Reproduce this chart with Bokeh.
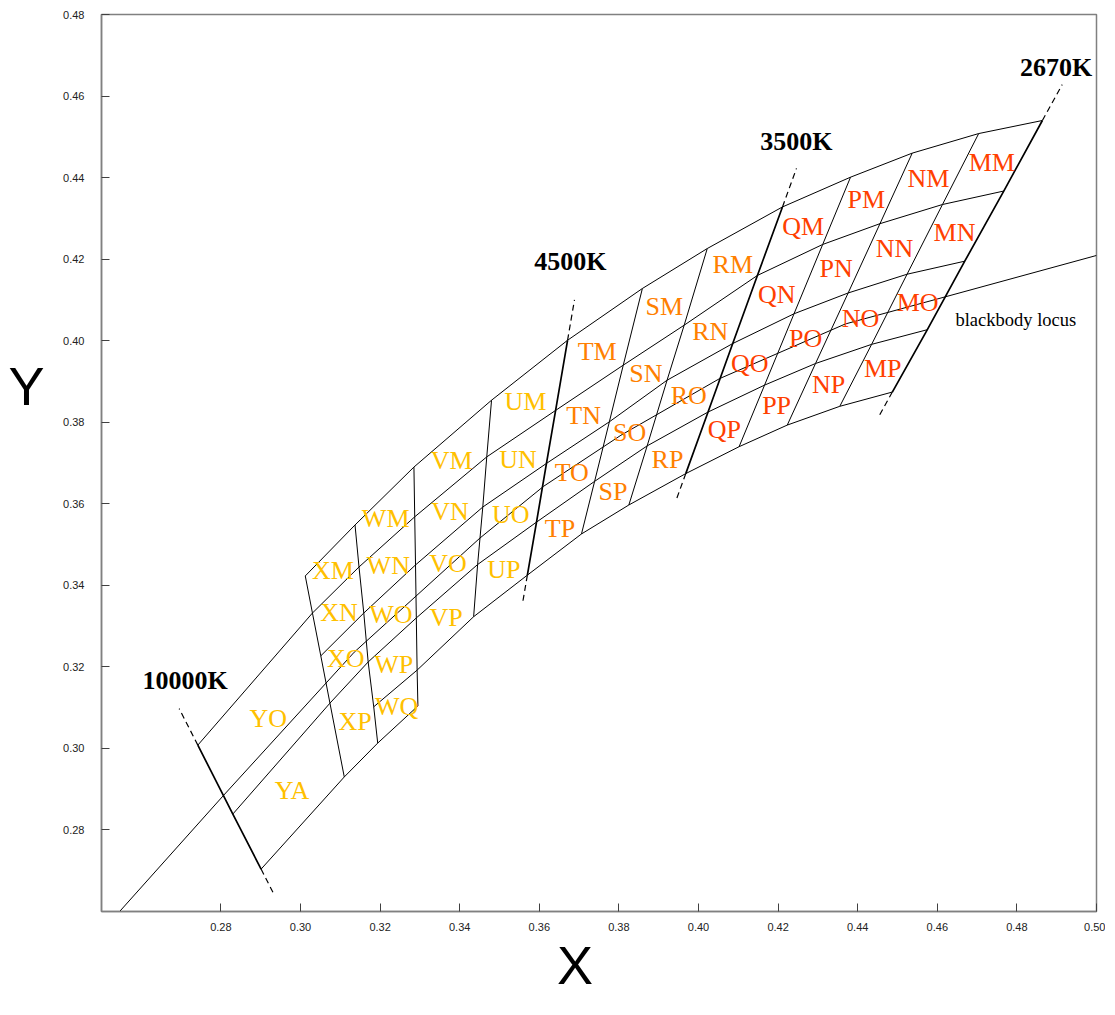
import math
from bokeh.plotting import figure
from bokeh.models import (ColumnDataSource, FixedTicker, NumeralTickFormatter,
                          PrintfTickFormatter, LinearAxis)
from bokeh.core.properties import value
from bokeh.embed import file_html
from bokeh.resources import INLINE

N = None
# ---- data: CIE 1931 chromaticity of the bin corners -------------------------
# isotherm lines, left (10000K) to right (2670K)
iso_names = ["10000K", "", "", "", "", "4500K", "", "", "3500K", "", "", "", "2670K"]

# constant-Duv curves, top (c0) to bottom (c5); one value per isotherm line
c0_x = [N, 0.3012, 0.3137, 0.3285, 0.3480, 0.3671, 0.3859, 0.4022, 0.4211, 0.4382, 0.4537, 0.4704, 0.4864]
c0_y = [N, 0.3423, 0.3548, 0.3690, 0.3854, 0.4001, 0.4128, 0.4226, 0.4328, 0.4401, 0.4460, 0.4508, 0.4540]
c1_x = [0.2742, 0.3030, 0.3147, 0.3287, 0.3468, 0.3641, 0.3811, 0.3964, 0.4148, 0.4312, 0.4456, 0.4613, 0.4767]
c1_y = [0.3008, 0.3332, 0.3445, 0.3568, 0.3715, 0.3829, 0.3940, 0.4038, 0.4160, 0.4236, 0.4287, 0.4334, 0.4367]
c2_x = [N, 0.3051, 0.3159, 0.3289, 0.3458, 0.3618, 0.3776, 0.3921, 0.4086, 0.4240, 0.4376, 0.4524, 0.4669]
c2_y = [N, 0.3227, 0.3332, 0.3450, 0.3592, 0.3699, 0.3801, 0.3903, 0.3993, 0.4066, 0.4117, 0.4163, 0.4195]
c3_x = [0.2830, 0.3074, 0.3170, 0.3291, 0.3445, 0.3593, 0.3739, 0.3871, 0.4024, 0.4166, 0.4294, 0.4435, 0.4575]
c3_y = [0.2839, 0.3111, 0.3212, 0.3320, 0.3451, 0.3555, 0.3655, 0.3742, 0.3825, 0.3891, 0.3944, 0.3991, 0.4027]
c4_x = [N, N, 0.3184, 0.3293, 0.3435, 0.3570, 0.3706, 0.3825, 0.3968, 0.4102, 0.4223, 0.4355, 0.4487]
c4_y = [N, N, 0.3102, 0.3192, 0.3323, 0.3425, 0.3526, 0.3597, 0.3674, 0.3740, 0.3793, 0.3839, 0.3874]
c5_x = [0.2901, 0.3110, 0.3194, 0.3295, N, N, N, N, N, N, N, N, N]
c5_y = [0.2704, 0.2930, 0.3013, 0.3104, N, N, N, N, N, N, N, N, N]

# blackbody locus
locus_x = [0.2540, 0.2805, 0.3135, 0.3451, 0.3611, 0.3805, 0.4053, 0.4369, 0.4618, 0.5000]
locus_y = [0.2594, 0.2883, 0.3236, 0.3516, 0.3643, 0.3768, 0.3907, 0.4041, 0.4107, 0.4209]

# bin columns (between consecutive isotherm lines) and their rows
columns = ["Y", "X", "W", "V", "U", "T", "S", "R", "Q", "P", "N", "M"]
std_rows = [("M", 0, 1), ("N", 1, 2), ("O", 2, 3), ("P", 3, 4)]
col_rows = {
    "Y": [("O", 1, 3), ("A", 3, 5)],
    "X": [("M", 0, 1), ("N", 1, 2), ("O", 2, 3), ("P", 3, 5)],
    "W": std_rows + [("Q", 4, 5)],
}
col_group = [0, 0, 0, 0, 0, 1, 1, 1, 2, 2, 2, 2]

x_ticks = [0.28, 0.30, 0.32, 0.34, 0.36, 0.38, 0.40, 0.42, 0.44, 0.46, 0.48, 0.50]
y_ticks = [0.28, 0.30, 0.32, 0.34, 0.36, 0.38, 0.40, 0.42, 0.44, 0.46, 0.48]

# ---- styling ------------------------------------------------------------------
group_colors = ["#FFC000", "#FF8000", "#FF4000"]
PXX, PXY = 3980.0, 4077.0  # screen px per chromaticity unit (frame 995 x 897)

cx = [c0_x, c1_x, c2_x, c3_x, c4_x, c5_x]
cy = [c0_y, c1_y, c2_y, c3_y, c4_y, c5_y]

p = figure(width=1105, height=1005, x_range=(0.25, 0.50), y_range=(0.26, 0.48),
           output_backend="svg", toolbar_location=None,
           min_border_left=101, min_border_right=9, min_border_top=14, min_border_bottom=94)
p.xgrid.visible = False
p.ygrid.visible = False
p.outline_line_color = "#808080"
p.outline_line_width = 1.5
p.background_fill_color = "white"
p.border_fill_color = "white"

for ax, ticks in ((p.xaxis, x_ticks), (p.yaxis, y_ticks)):
    ax.ticker = FixedTicker(ticks=ticks)
    ax.formatter = NumeralTickFormatter(format="0.00")
    ax.major_tick_in = 8
    ax.major_tick_out = 0
    ax.minor_tick_line_color = None
    ax.axis_line_color = "#808080"
    ax.axis_line_width = 1.5
    ax.major_tick_line_color = "#404040"
    ax.major_label_text_font = "Liberation Sans"
    ax.major_label_text_font_size = "11px"
    ax.major_label_text_color = "#222222"
p.xaxis.major_label_standoff = 11
p.yaxis.major_label_standoff = 17

# axis titles, written as the single label of an extra, line-less axis
def title_axis(letter, pos, standoff):
    return LinearAxis(ticker=FixedTicker(ticks=[pos]),
                      formatter=PrintfTickFormatter(format=letter),
                      axis_line_color=None, major_tick_line_color=None,
                      minor_tick_line_color=None, major_tick_in=0, major_tick_out=0,
                      major_label_standoff=standoff,
                      major_label_text_font="Liberation Sans",
                      major_label_text_font_size="54px",
                      major_label_text_color="black")

p.add_layout(title_axis("Y", 0.3888, 16), "left")
p.add_layout(title_axis("X", 0.3690, 1), "below")

# isotherm lines (solid part)
iso_xs, iso_ys, iso_w = [], [], []
ext_xs, ext_ys = [], []
ends = {}
for i in range(len(iso_names)):
    pts = [(cx[k][i], cy[k][i]) for k in range(6) if cx[k][i] is not None]
    iso_xs.append([q[0] for q in pts])
    iso_ys.append([q[1] for q in pts])
    iso_w.append(1.7 if iso_names[i] else 1.0)
    if iso_names[i]:
        (xt, yt), (xb, yb) = pts[0], pts[-1]
        dxp, dyp = (xt - xb) * PXX, (yt - yb) * PXY
        L = math.hypot(dxp, dyp)
        ux, uy = dxp / L, dyp / L
        top = (xt + ux * 41 / PXX, yt + uy * 41 / PXY)
        bot = (xb - ux * 27 / PXX, yb - uy * 27 / PXY)
        ext_xs += [[xt, top[0]], [xb, bot[0]]]
        ext_ys += [[yt, top[1]], [yb, bot[1]]]
        ends[iso_names[i]] = top

p.multi_line(xs=iso_xs, ys=iso_ys, line_color="black", line_width=iso_w)
p.multi_line(xs=ext_xs, ys=ext_ys, line_color="black", line_width=1.2, line_dash="6 4")

# constant-Duv curves
cur_xs, cur_ys = [], []
for k in range(6):
    pts = [(cx[k][i], cy[k][i]) for i in range(len(iso_names)) if cx[k][i] is not None]
    cur_xs.append([q[0] for q in pts])
    cur_ys.append([q[1] for q in pts])
p.multi_line(xs=cur_xs, ys=cur_ys, line_color="black", line_width=1.0)

# blackbody locus
p.line(locus_x, locus_y, line_color="black", line_width=1.0)

# bin labels at the centre of each cell
lx, ly, lt, lc = [], [], [], []
for ci, col in enumerate(columns):
    for (row, ka, kb) in col_rows.get(col, std_rows):
        xs = [cx[ka][ci], cx[ka][ci + 1], cx[kb][ci + 1], cx[kb][ci]]
        ys = [cy[ka][ci], cy[ka][ci + 1], cy[kb][ci + 1], cy[kb][ci]]
        lx.append(sum(xs) / 4)
        ly.append(sum(ys) / 4)
        lt.append(col + row)
        lc.append(group_colors[col_group[ci]])
src = ColumnDataSource(dict(x=lx, y=ly, t=lt, c=lc))
p.text(x="x", y="y", text="t", source=src, text_color="c",
       text_font=value("Liberation Serif"), text_font_size=value("26px"),
       text_align="center", text_baseline="middle")

# temperature labels above the dashed ends
temp_off = {"10000K": (6, 28), "4500K": (-4, 38), "3500K": (0, 27), "2670K": (-6, 17)}
tx, ty, tt = [], [], []
for name, (ox, oy) in temp_off.items():
    ex, ey = ends[name]
    tx.append(ex + ox / PXX)
    ty.append(ey + oy / PXY)
    tt.append(name)
p.text(x=tx, y=ty, text=tt, text_color="black",
       text_font=value("Liberation Serif"), text_font_size=value("26px"),
       text_font_style="bold", text_align="center", text_baseline="middle")

# locus caption
p.text(x=[locus_x[-2] + 11 / PXX], y=[locus_y[-2] - 23 / PXY], text=["blackbody locus"],
       text_color="black", text_font=value("Liberation Serif"), text_font_size=value("18.5px"),
       text_align="left", text_baseline="middle")

open("out.html", "w").write(file_html(p, INLINE))
